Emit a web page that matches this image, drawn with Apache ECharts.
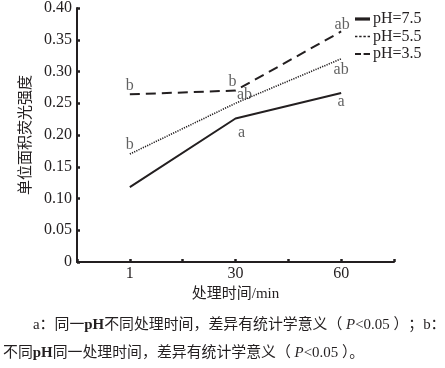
<!DOCTYPE html>
<html><head><meta charset="utf-8">
<script src="https://cdn.jsdelivr.net/npm/echarts@6/dist/echarts.min.js"></script>
<style>html,body{margin:0;padding:0;background:#fff;}#c{width:445px;height:368px;}</style>
</head><body><div id="c"></div>
<script>
// ---- data ----
var categories = ['1', '30', '60'];
var seriesNames = ['pH=7.5', 'pH=5.5', 'pH=3.5'];
var ph75 = [0.118, 0.226, 0.266];
var ph55 = [0.170, 0.250, 0.320];
var ph35 = [0.264, 0.270, 0.363];
var ann75 = ['', 'a', 'a'];
var ann55 = ['b', 'ab', 'ab'];
var ann35 = ['b', 'b', 'ab'];
var yTicks = [0, 0.05, 0.10, 0.15, 0.20, 0.25, 0.30, 0.35, 0.40];

// ---- styling ----
var INK = '#231f20';
var serif = '"Liberation Serif","DejaVu Serif",serif';
var cjk = '"Liberation Serif","Noto Sans CJK SC",serif';
// category i sits on axis position 2*i+1 (axis 0..6)
function pos(i) { return 2 * i + 1; }
var annOffsets = {
  'pH=7.5': [[0, 0], [6, 14], [0, 9]],
  'pH=5.5': [[0, -9], [9, -8], [0, 11]],
  'pH=3.5': [[0, -9], [-3, -9], [1, -7]]
};
var lineStyles = {
  'pH=7.5': { color: INK, width: 2, type: 'solid' },
  'pH=5.5': { color: INK, width: 1.6, type: [1.2, 1.2] },
  'pH=3.5': { color: INK, width: 2, type: [10, 6] }
};
var legendIcons = {
  'pH=7.5': 'path://M0,0H15V3.2H0Z',
  'pH=5.5': 'path://M0,0h2.4v1.3h-2.4zM4.2,0h2.4v1.3h-2.4zM8.4,0h2.4v1.3h-2.4zM12.6,0h2.4v1.3h-2.4z',
  'pH=3.5': 'path://M0,0h6v2h-6zM8.6,0h6.4v2h-6.4z'
};
var vals = { 'pH=7.5': ph75, 'pH=5.5': ph55, 'pH=3.5': ph35 };
var anns = { 'pH=7.5': ann75, 'pH=5.5': ann55, 'pH=3.5': ann35 };

var series = [];
seriesNames.forEach(function (n) {
  series.push({
    name: n, type: 'line', symbol: 'none', silent: true,
    itemStyle: { color: INK },
    lineStyle: lineStyles[n],
    data: vals[n].map(function (v, i) { return [pos(i), v]; })
  });
});
var annData = [];
seriesNames.forEach(function (n) {
  vals[n].forEach(function (v, i) {
    if (!anns[n][i]) return;
    annData.push({ value: [pos(i), v], name: anns[n][i],
      label: { offset: annOffsets[n][i] } });
  });
});
series.push({
  type: 'scatter', symbol: 'circle', symbolSize: 0, silent: true,
  itemStyle: { color: 'rgba(0,0,0,0)' },
  label: { show: true, position: 'inside', formatter: function (p) { return p.name; },
    color: '#3a3a3a', fontFamily: serif, fontSize: 16, align: 'center', verticalAlign: 'middle' },
  data: annData
});

var chart = echarts.init(document.getElementById('c'), null, { renderer: 'canvas' });
chart.setOption({
  animation: false,
  backgroundColor: '#fff',
  grid: { left: 77, right: 51, top: 7, bottom: 106, containLabel: false },
  legend: {
    orient: 'vertical', left: 355, top: 11, padding: 0, itemWidth: 15, itemHeight: 10, itemGap: 1.5,
    symbolKeepAspect: true,
    itemStyle: { color: INK, borderWidth: 0 },
    textStyle: { color: INK, fontFamily: serif, fontSize: 16, lineHeight: 11, padding: [0, 0, 0, -2] },
    data: seriesNames.map(function (n) { return { name: n, icon: legendIcons[n] }; })
  },
  xAxis: {
    type: 'value', min: 0, max: 6, interval: 1,
    name: '处理时间/min', nameLocation: 'middle', nameGap: 22,
    nameTextStyle: { color: INK, fontFamily: cjk, fontSize: 15 },
    axisLine: { lineStyle: { color: INK, width: 2 } },
    axisTick: { inside: true, length: 3, lineStyle: { color: INK, width: 2.5 } },
    axisLabel: { margin: 4, color: INK, fontFamily: serif, fontSize: 16,
      formatter: function (v) { return (v % 2 === 1) ? categories[(v - 1) / 2] : ''; } },
    splitLine: { show: false }
  },
  yAxis: {
    type: 'value', min: 0, max: 0.4, interval: 0.05,
    name: '单位面积荧光强度', nameLocation: 'middle', nameGap: 37, nameRotate: 90,
    nameTextStyle: { color: INK, fontFamily: cjk, fontSize: 15 },
    axisLine: { show: true, lineStyle: { color: INK, width: 2 } },
    axisTick: { show: true, inside: true, length: 3, lineStyle: { color: INK, width: 2.5 } },
    axisLabel: { margin: 5, color: INK, fontFamily: serif, fontSize: 16,
      formatter: function (v) {
        var t = yTicks.reduce(function (a, b) { return Math.abs(b - v) < Math.abs(a - v) ? b : a; });
        return t === 0 ? '0' : t.toFixed(2);
      } },
    splitLine: { show: false }
  },
  graphic: [
    { type: 'text', left: 33, top: 318, style: {
      text: '{t|a：同一}{b|pH}{t|不同处理时间，差异有统计学意义（ }{i|P}{t|<0.05 ）；b：}',
      rich: {
        t: { fontFamily: cjk, fontSize: 14.9, fill: INK },
        b: { fontFamily: serif, fontSize: 14.9, fontWeight: 'bold', fill: INK },
        i: { fontFamily: serif, fontSize: 14.9, fontStyle: 'italic', fill: INK }
      } } },
    { type: 'text', left: 3, top: 346, style: {
      text: '{t|不同}{b|pH}{t|同一处理时间，差异有统计学意义（ }{i|P}{t|<0.05 ）。}',
      rich: {
        t: { fontFamily: cjk, fontSize: 14.9, fill: INK },
        b: { fontFamily: serif, fontSize: 14.9, fontWeight: 'bold', fill: INK },
        i: { fontFamily: serif, fontSize: 14.9, fontStyle: 'italic', fill: INK }
      } } }
  ],
  series: series
});
</script></body></html>
